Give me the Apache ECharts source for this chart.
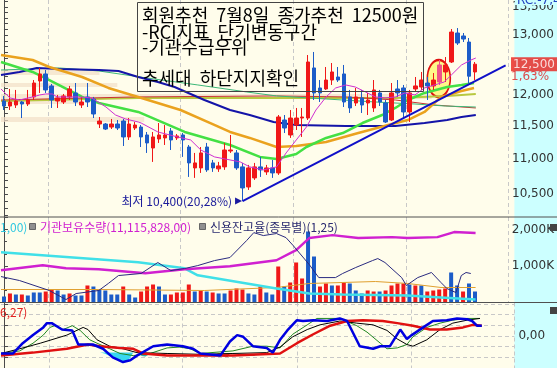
<!DOCTYPE html>
<html><head><meta charset="utf-8">
<script src="https://cdn.jsdelivr.net/npm/echarts@6/dist/echarts.min.js"></script>
<style>html,body{margin:0;padding:0;background:#fffdeb;}#c{width:557px;height:368px;}</style>
</head><body><div id="c"></div><script>
// ---------- data ----------
const days = Array.from({length: 85}, (_, i) => 'D' + (i + 1));
const open  = [11897,11817,11833,11881,11849,11962,12221,12337,12140,11897,11881,11962,12026,11833,11962,11929,11535,11535,11488,11535,11581,11336,11473,11488,11366,11169,11305,11321,11427,11321,11366,11184,10874,10874,11184,10947,10860,10889,11124,11095,10889,10599,10729,10889,10816,10874,10801,11597,11366,11519,11628,11628,12437,12107,12091,12237,12287,12337,11962,11865,11946,11865,11786,12026,11865,11597,12091,12107,11723,12091,12123,12188,12140,12205,12370,12537,13035,12983,12878,12370];
const close = [11817,11881,11897,11849,11913,12188,12337,12075,11913,11946,11978,12091,11881,11881,11881,11691,11581,11457,11535,11473,11336,11535,11519,11336,11245,11336,11366,11366,11290,11351,11290,10947,10947,11095,10845,10874,10903,11139,11139,10874,10585,10874,10889,10845,10874,10801,11644,11473,11628,11628,11644,12537,12026,12026,12237,12370,12237,11881,11786,11962,11833,11913,12075,11881,11566,12026,12026,11723,12026,12140,12237,12140,12237,12487,12487,13052,12861,12930,12300,12500];
const low   = [11754,11754,11786,11628,11817,11913,12026,12026,11786,11786,11849,11913,11817,11786,11801,11628,11473,11442,11457,11442,11199,11290,11442,11184,11095,10962,11245,11214,11139,11290,11036,10743,10729,10801,10816,10816,10816,10845,11095,10845,10400,10557,10700,10743,10772,10729,10772,11396,11321,11442,11336,11597,11913,11881,12075,12156,12205,11801,11707,11817,11707,11675,11723,11817,11550,11581,11962,11628,11566,12042,12075,11913,12075,12156,12205,12520,12827,12878,12188,12237];
const high  = [11978,12091,12075,11897,12075,12237,12437,12403,12172,11994,12010,12140,12188,11962,12188,11962,11644,11550,11613,11597,11613,11628,11566,11519,11412,11412,11550,11519,11473,11381,11396,11214,11095,11184,11245,10991,10962,11245,11366,11139,10947,10918,10947,11036,10918,10991,11675,11675,11754,11786,11786,12655,12707,12237,12453,12520,12453,12487,12075,12107,12075,12026,12237,12075,11913,12188,12237,12156,12075,12287,12370,12287,12353,12571,12621,13105,13122,13035,12948,12537];
const volume = [164,247,219,219,192,274,274,301,356,329,219,247,192,192,466,438,356,329,219,219,438,219,137,301,438,493,438,219,219,274,274,493,301,329,301,274,247,247,329,384,356,247,219,438,274,219,986,438,548,1096,658,1945,1260,438,521,466,466,548,521,329,247,329,301,301,329,466,521,521,493,466,466,301,329,356,384,822,466,301,521,301];
const volDir = 'brbrbbbrrbbrbbrbbbbbrbbrrrbbrrrrbrbrbbrrrbbrbbrbrrrbbrrbrrbbbrrbrrrrbrbrrrrbbrb';
// moving averages of price: [day index, price]
const ma5   = [[-0.5,12091],[1,11946],[2.6,11913],[4.8,11962],[6,11994],[7,12010],[8.1,12010],[8.9,11962],[10.4,11962],[12.6,11962],[14.7,11946],[17.1,11801],[18.7,11675],[20.4,11613],[22.5,11566],[23,11550],[25.8,11412],[29.1,11336],[31.3,11290],[33,11139],[35.3,11036],[37.9,10991],[39.6,10962],[41.2,10889],[43.5,10845],[45.7,10889],[47.3,11095],[49,11290],[50.7,11488],[52.3,11754],[54,11962],[55.6,12107],[57.3,12156],[58.9,12123],[60.6,12042],[62.3,11962],[63.9,11946],[65.6,11962],[67.2,12026],[68.9,11994],[70.5,12107],[72.2,12156],[73.8,12205],[75,12320],[76.7,12487],[78.3,12571],[79.1,12604]];
const ma20  = [[-0.5,12537],[4.8,12370],[7.6,12237],[13.1,11962],[15.9,11865],[22.5,11723],[30.3,11412],[37.9,11214],[42.9,11036],[45.7,11006],[49,11080],[50.7,11184],[54,11321],[56.8,11396],[60.1,11550],[63.4,11675],[65.6,11786],[67.7,11913],[70.5,12026],[74.3,12123],[76.7,12156],[78.8,12188]];
const ma60  = [[-0.5,12655],[4.8,12571],[7.6,12453],[13.1,12287],[17.5,12107],[22.5,11962],[29.6,11754],[34.6,11550],[37.9,11412],[41.2,11321],[45.7,11184],[49,11199],[54,11260],[59.4,11396],[64.4,11519],[67.7,11597],[70.5,11723],[73.3,11962],[76.7,12058],[78.8,12107]];
const ma120 = [[-0.5,12320],[2.6,12370],[5.5,12437],[9.3,12420],[15.9,12403],[19.2,12387],[22.5,12287],[25.8,12205],[28.6,12123],[33.6,11913],[37.9,11754],[41.2,11675],[45.2,11566],[49,11519],[57.3,11504],[65.6,11504],[70.5,11550],[74.3,11597],[76.7,11644],[79.1,11675]];
const maOlive = [[-0.5,11897],[22.5,11946],[45.7,11946],[65.6,11946],[74.3,11978],[79.1,12010]];
const maTeal  = [[-0.5,12403],[9.3,12437],[15.9,12387],[24,12270],[32.5,12156],[40.7,12042],[45.7,11978],[54,11929],[62.3,11881],[68.9,11849],[74,11817],[79.1,11801]];
const maRed   = [[-0.5,11913],[22,11962],[45.7,11978],[57.3,11962],[65.6,11913],[72.2,11833],[79.1,11786]];
const trend   = [[40,10400],[84.1,12480]];
const bands   = [[11566,11644,23.5],[11849,11913,13],[11929,12010,71.7],[12123,12188,19],[12320,12403,16]];
const volMA   = [[-0.5,356],[15.9,356],[33.6,329],[45.7,411],[51.2,521],[56.8,548],[62.3,575],[67.7,521],[73.3,411],[79.1,411]];
const instHold = [[-0.5,9979],[6.5,10132],[10.4,10040],[15.9,10009],[23.7,9887],[30.3,10009],[37.9,10101],[45.7,10285],[49,10591],[51.2,10958],[55.1,11049],[59.4,10958],[65.1,10988],[67.7,10958],[72.7,10988],[75.5,11141],[79.1,11116]];
const foreignHold = [[-0.5,5.0],[22.5,4.0],[30.3,3.4],[32.5,2.7],[45.7,1.4],[51.2,0.9],[56.8,0.8],[67.7,0.7],[73.3,0.5],[79.1,0.3]];
const creditRatio = [[-0.5,1.229],[2.6,1.194],[7.6,1.106],[10.4,1.026],[12.1,1.079],[15.9,1.106],[17.5,1.168],[19.2,1.238],[23,1.256],[25.8,1.353],[28,1.282],[30.3,1.300],[32.5,1.326],[35.3,1.370],[37.9,1.397],[40.7,1.547],[41.9,1.617],[43.5,1.591],[45.7,1.609],[47.3,1.573],[48.5,1.503],[51.2,1.335],[52.8,1.220],[55.6,1.220],[56.8,1.256],[59,1.309],[61.8,1.370],[62.7,1.388],[63.9,1.353],[66.7,1.220],[67.5,1.150],[69.4,1.220],[71.7,1.265],[73.3,1.176],[74.3,1.123],[75.8,1.088],[76.7,1.238],[77.5,1.265],[78.3,1.256]];
const rciShort = [[-0.5,-41],[1.5,-41],[3.1,-17],[4.8,2],[6.5,20],[7.1,30],[7.9,30],[9.6,15],[11.3,13],[12.3,-20],[14.7,-20],[16.4,-30],[18,-50],[19.7,-61],[20.9,-57],[22,-46],[24.7,-24],[27,-20],[29.6,-24],[31.3,-30],[32.5,-41],[35.8,-46],[37.4,-13],[38.6,2],[39.6,-2],[41.2,-24],[43.5,-28],[44.5,-39],[45.7,-9],[46.9,13],[48.5,37],[49.5,35],[51.2,37],[53.5,35],[55.6,41],[56.8,35],[58.9,-24],[61.1,-30],[62.3,-24],[63.9,-24],[65.6,15],[66.7,-7],[67.5,2],[69.4,20],[71,35],[73.3,37],[75,41],[76.7,39],[77.5,35],[78.3,24],[79.1,24]];
const rciMid = [[-0.5,-41],[2.6,-35],[4.8,-17],[6.5,2],[7.6,20],[8.4,24],[9.8,15],[11.3,24],[12.6,13],[14.2,-9],[15.4,-17],[17.5,-30],[19.2,-41],[21.4,-46],[24.2,-41],[27,-28],[29.1,-26],[30.8,-30],[32.5,-41],[37.9,-35],[41.2,-24],[43.5,-24],[45.7,-28],[47.8,4],[50.2,26],[51.8,41],[55.6,41],[58.4,24],[60.1,9],[62.3,-17],[63.4,-30],[65.1,-28],[66.7,-20],[67.7,-2],[70,20],[72.2,30],[74.3,37],[76.7,41],[78.8,41]];
const rciLong = [[-0.5,-41],[2.6,-30],[6,-17],[10.4,2],[13.1,20],[13.9,15],[15.4,-9],[17.5,-24],[19.7,-30],[22,-39],[27,-41],[32.5,-43],[37.9,-41],[43.5,-39],[45.7,-26],[47.8,-2],[50.2,15],[52.3,26],[55.6,35],[58.4,30],[61.1,26],[63.4,13],[65.1,-7],[66.7,-20],[67.7,-24],[70,-9],[72.2,15],[74.3,30],[76.7,37],[78.8,41]];
const rciSignal = [[-0.5,-46],[4.8,-39],[10.4,-30],[13.9,-20],[15.9,-24],[19.2,-28],[21.4,-30],[23,-41],[27,-46],[37.9,-46],[45.7,-41],[48.5,-17],[51.2,4],[54,24],[56.8,35],[59.4,37],[62.7,35],[65.1,30],[67.7,24],[70.5,15],[73.3,15],[76,20],[77.6,26],[79.1,24]];
// shaded zones of the RCI panel: [colour, polygon of [day index, value]]
const rciZones = [
  ['#38d8f0', [[15.9,-39],[21.4,-39],[20.5,-60],[19.7,-61],[18,-50],[16.6,-41]]],
  ['#30a8a8', [[22.3,-41],[24.3,-41],[23.4,-48],[22.8,-47]]],
  ['#a04848', [[35.3,-41],[37.4,-41],[37,-49],[35.8,-47]]],
  ['#8a8a8a', [[40.3,-42],[41.9,-42],[41.4,-47],[40.7,-46]]]
];
const priceLabels = [10500,11000,11500,12000,13000,13500];
const noteLines = ['회원추천  7월8일  종가추천  12500원','-RCI지표  단기변동구간','-기관수급우위','추세대  하단지지확인'];
const lowText = '최저 10,400(20,28%)';
const markedDay = 73;

// ---------- helpers ----------
const fmt = v => String(Math.round(v)).replace(/\B(?=(\d{3})+(?!\d))/g, ',');
const N = days.length;
const lastClose = close[close.length - 1], prevClose = close[close.length - 2];
const pct = ((lastClose - prevClose) / prevClose * 100).toFixed(2).replace('.', ',');
const minorPriceTicks = [];
for (let v = 10200; v <= 13600; v += 100) minorPriceTicks.push(v);
const candles = open.map((o, i) => ({value: [o, close[i], low[i], high[i]],
  itemStyle: i === markedDay ? {color: '#f0508a', borderColor: '#f0508a'} : undefined}));
const volBars = volume.map((v, i) => ({value: v, itemStyle: {color: volDir[i] === 'r' ? '#f01818' : '#1c5cc8'}}));

const FONT = '"DejaVu Sans", sans-serif';
const KFONT = '"Noto Sans CJK KR", sans-serif';
const L = 1, W = 513.4;
const gridTop = [0, 217, 302.5], gridH = [217, 85.5, 71];
const vsplits = [8, 30, 49, 68];

const catAxis = gi => ({type: 'category', gridIndex: gi, data: days, boundaryGap: true,
  axisLine: {show: false}, axisTick: {show: false}, axisLabel: {show: false},
  splitLine: {show: true, interval: (i) => vsplits.includes(i), lineStyle: {color: '#c8c8c8', type: [4, 3]}}});
const valAxis = gi => ({type: 'value', gridIndex: gi, min: -0.5, max: N - 0.5, show: false});
const ln = (data, color, width, xi, yi, z) => ({type: 'line', data, xAxisIndex: xi, yAxisIndex: yi,
  symbol: 'none', silent: true, z: z || 3, lineStyle: {color, width}, animation: false});
const zoneSeries = rciZones.map(([color, poly]) => ({
  type: 'custom', xAxisIndex: 5, yAxisIndex: 5, silent: true, z: 2, data: [0],
  renderItem: (params, api) => ({type: 'polygon', shape: {points: poly.map(p => api.coord(p))}, style: {fill: color}})
}));

const option = {
  animation: false,
  backgroundColor: '#fffdeb',
  grid: gridTop.map((t, i) => ({left: L, top: t, width: W, height: gridH[i]})),
  xAxis: [catAxis(0), catAxis(1), catAxis(2), valAxis(0), valAxis(1), valAxis(2)],
  yAxis: [
    {type: 'log', logBase: 10, gridIndex: 0, position: 'right', min: 10180, max: 13626,
     axisLine: {show: true, lineStyle: {color: '#4a4a4a'}},
     axisTick: {show: true, length: 4, customValues: minorPriceTicks, lineStyle: {color: '#4a4a4a'}},
     axisLabel: {customValues: priceLabels, formatter: fmt, color: '#333', fontSize: 12, fontFamily: FONT, margin: 4},
     splitLine: {show: false}},
    {type: 'value', gridIndex: 1, position: 'right', min: 0, max: 2342, interval: 1000,
     axisLine: {show: true, lineStyle: {color: '#4a4a4a'}},
     axisTick: {show: true, length: 4, lineStyle: {color: '#4a4a4a'}},
     minorTick: {show: true, splitNumber: 3, length: 3, lineStyle: {color: '#4a4a4a'}},
     axisLabel: {formatter: v => v ? fmt(v) + 'K' : '', color: '#333', fontSize: 12, fontFamily: FONT, margin: 4, showMaxLabel: false},
     splitLine: {show: false}},
    {type: 'value', gridIndex: 1, min: 9000, max: 11600, show: false},
    {type: 'value', gridIndex: 1, min: 0, max: 8.5, show: false},
    {type: 'value', gridIndex: 1, min: 1.0, max: 1.755, show: false},
    {type: 'value', gridIndex: 2, position: 'right', min: -75, max: 78.3, interval: 25,
     axisLine: {show: true, lineStyle: {color: '#4a4a4a'}},
     axisTick: {show: true, length: 4, lineStyle: {color: '#4a4a4a'}},
     axisLabel: {formatter: v => v === 0 ? '0,00' : '', color: '#333', fontSize: 12, fontFamily: FONT, margin: 4},
     splitLine: {show: true, lineStyle: {color: '#c8c8c8', type: [4, 3]}}}
  ],
  series: [
    // top panel
    Object.assign(ln(maOlive, '#b8c840', 2, 3, 0, 2), {
      markArea: {silent: true, itemStyle: {color: 'rgba(242,222,200,0.7)'},
        data: bands.map(b => [{coord: [-0.5, b[0]]}, {coord: [b[2], b[1]]}])}}),
    ln(maRed, '#c83030', 1, 3, 0, 2),
    ln(maTeal, '#3cb878', 1, 3, 0, 2),
    ln(ma120, '#1414a8', 2, 3, 0, 2),
    ln(ma60, '#eaa21e', 2.5, 3, 0, 2),
    ln(ma20, '#44e044', 2.5, 3, 0, 2),
    {type: 'scatter', xAxisIndex: 3, yAxisIndex: 0, data: [], z: 2, silent: true,
     markPoint: {silent: true, z: 2, symbol: 'circle', symbolSize: [23, 37],
       itemStyle: {color: 'rgba(255,245,120,0.85)', borderColor: '#e01010', borderWidth: 2},
       label: {show: false}, data: [{coord: [markedDay - 0.1, 12262]}]}},
    {type: 'candlestick', xAxisIndex: 0, yAxisIndex: 0, data: candles, barWidth: 4, z: 4, silent: true,
     itemStyle: {color: '#f01818', color0: '#1c5cc8', borderColor: '#f01818', borderColor0: '#1c5cc8', borderWidth: 1},
     markPoint: {silent: true, symbol: 'triangle', symbolRotate: -90, symbolSize: [7, 7], symbolOffset: [-4, 0],
       itemStyle: {color: '#1a1aa0'},
       label: {show: true, position: 'left', distance: 3, formatter: lowText, color: '#1a1a9a', fontSize: 12, fontFamily: KFONT},
       data: [{coord: [days[40], low[40]]}]}},
    ln(ma5, '#d030d0', 1, 3, 0, 5),
    ln(trend, '#1010c8', 2, 3, 0, 6),
    // current price tag on the price axis
    {type: 'scatter', xAxisIndex: 3, yAxisIndex: 0, data: [[N - 0.5, lastClose]], symbolSize: 0, clip: false, z: 20, silent: true,
     label: {show: true, position: 'right', distance: 3, offset: [0, 6.5],
       formatter: '{a|' + fmt(lastClose) + '}\n{b|' + pct + '%}',
       rich: {a: {backgroundColor: '#e8201c', color: '#fff', fontSize: 12, fontFamily: FONT, padding: [1, 3, 0, 2], lineHeight: 13, height: 13},
              b: {color: '#e02020', fontSize: 12, fontFamily: FONT, lineHeight: 13}}}},
    // volume panel
    {type: 'bar', xAxisIndex: 1, yAxisIndex: 1, data: volBars, barWidth: 4, silent: true, z: 2},
    ln(volMA, '#e0a030', 1, 4, 1, 3),
    ln(foreignHold, '#40e0e8', 2.5, 4, 3, 4),
    ln(instHold, '#d020d0', 2.5, 4, 2, 4),
    ln(creditRatio, '#2a2a80', 1, 4, 4, 5),
    // RCI panel
    ...zoneSeries,
    ln(rciMid, '#228822', 1, 5, 5, 3),
    ln(rciLong, '#000000', 1, 5, 5, 3),
    ln(rciSignal, '#e01010', 2.5, 5, 5, 4),
    ln(rciShort, '#0000e0', 2.5, 5, 5, 5)
  ],
  graphic: [
    {type: 'rect', z: -10, shape: {x: 514.4, y: 0, width: 43, height: 368}, style: {fill: '#ccffff'}},
    {type: 'line', z: 100, shape: {x1: 0, y1: 217, x2: 557, y2: 217}, style: {stroke: '#505050', lineWidth: 1}},
    {type: 'line', z: 100, shape: {x1: 0, y1: 302.5, x2: 557, y2: 302.5}, style: {stroke: '#505050', lineWidth: 1}},
    {type: 'rect', z: 50, shape: {x: 137.5, y: 2.5, width: 286, height: 89}, style: {fill: 'none', stroke: '#444', lineWidth: 1}},
    {type: 'text', z: 51, x: 142, y: 15, style: {text: noteLines[0], font: '18px ' + KFONT, fill: '#000', verticalAlign: 'middle'}},
    {type: 'text', z: 51, x: 142, y: 32, style: {text: noteLines[1], font: '18px ' + KFONT, fill: '#000', verticalAlign: 'middle'}},
    {type: 'text', z: 51, x: 142, y: 47, style: {text: noteLines[2], font: '18px ' + KFONT, fill: '#000', verticalAlign: 'middle'}},
    {type: 'text', z: 51, x: 142, y: 78, style: {text: noteLines[3], font: '18px ' + KFONT, fill: '#000', verticalAlign: 'middle'}},
    {type: 'rect', z: 59, shape: {x: 515, y: 0, width: 42, height: 5}, style: {fill: '#ccffff'}},
    {type: 'text', z: 60, x: 517, y: 1, style: {text: 'RC:-7,45', font: '12px ' + FONT, fill: '#2040c0', verticalAlign: 'middle'}},
    {type: 'text', z: 60, x: 0, y: 227, style: {text: '1,00)', font: '12px ' + KFONT, fill: '#30c8e0', verticalAlign: 'middle'}},
    {type: 'rect', z: 60, shape: {x: 29.5, y: 223.5, width: 6, height: 6}, style: {fill: '#909090', stroke: '#666'}},
    {type: 'text', z: 60, x: 40, y: 227, style: {text: '기관보유수량(11,115,828,00)', font: '12px ' + KFONT, fill: '#d020d0', verticalAlign: 'middle'}},
    {type: 'rect', z: 60, shape: {x: 199.5, y: 223.5, width: 6, height: 6}, style: {fill: '#909090', stroke: '#666'}},
    {type: 'text', z: 60, x: 210, y: 227, style: {text: '신용잔고율(종목별)(1,25)', font: '12px ' + KFONT, fill: '#2a2a70', verticalAlign: 'middle'}},
    {type: 'text', z: 60, x: 0, y: 312, style: {text: '6,27)', font: '12px ' + KFONT, fill: '#e02020', verticalAlign: 'middle'}},
    {type: 'rect', z: 60, shape: {x: 550, y: 224, width: 7, height: 7}, style: {fill: '#444'}},
    {type: 'rect', z: 60, shape: {x: 550, y: 307, width: 7, height: 7}, style: {fill: '#444'}}
  ]
};
const chart = echarts.init(document.getElementById('c'), null, {renderer: 'canvas'});
chart.setOption(option);
</script></body></html>
